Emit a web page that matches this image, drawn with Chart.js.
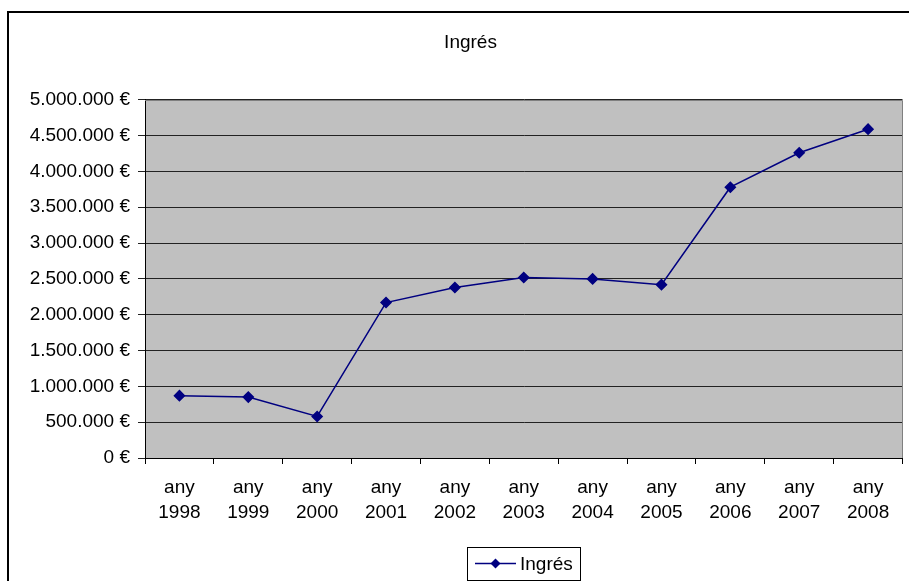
<!DOCTYPE html>
<html lang="ca">
  <head>
    <meta charset="UTF-8" />
    <title>Ingrés</title>
    <style>
      body,
      html {
        margin: 0;
        background: #fff;
      }
      .wrap {
        position: relative;
        width: 909px;
        height: 581px;
      }
    </style>
  </head>
  <body>
    <div class="wrap">
      <canvas id="grafic"></canvas>
    </div>

    <script src="https://cdn.jsdelivr.net/npm/chart.js"></script>

    <script>
      // Dades del gràfic
      const anys = ["1998", "1999", "2000", "2001", "2002", "2003", "2004", "2005", "2006", "2007", "2008"];
      const ingres = [870000, 850000, 580000, 2170000, 2380000, 2520000, 2500000, 2420000, 3780000, 4260000, 4590000];
      const titol = "Ingrés";
      const nomSerie = "Ingrés";

      const FONT = "'Liberation Sans', Arial, sans-serif";
      const BLAU = "#000080";

      // 5000000 -> "5.000.000 €"
      function euros(v) {
        return String(Math.round(v)).replace(/\B(?=(\d{3})+(?!\d))/g, ".") + " €";
      }

      // fons gris de l'area del grafic i marc exterior
      const fons = {
        id: "fons",
        beforeDraw(chart) {
          const { ctx, chartArea: a } = chart;
          ctx.save();
          ctx.fillStyle = "#c0c0c0";
          ctx.fillRect(a.left, a.top, a.right - a.left, a.bottom - a.top);
          ctx.strokeStyle = "#000";
          ctx.lineWidth = 2;
          ctx.beginPath();
          ctx.moveTo(8, 600);
          ctx.lineTo(8, 12);
          ctx.lineTo(920, 12);
          ctx.stroke();
          ctx.restore();
        },
        beforeDatasetsDraw(chart) {
          // vora grisa superior i dreta de l'area
          const { ctx, chartArea: a } = chart;
          ctx.save();
          ctx.strokeStyle = "#808080";
          ctx.lineWidth = 1;
          ctx.beginPath();
          ctx.moveTo(a.left, Math.round(a.top) + 0.5);
          ctx.lineTo(Math.round(a.right) - 0.5, Math.round(a.top) + 0.5);
          ctx.lineTo(Math.round(a.right) - 0.5, a.bottom);
          ctx.stroke();
          ctx.restore();
        },
      };

      // llegenda amb caixa, linia i rombe
      const llegenda = {
        id: "llegenda",
        afterDraw(chart) {
          const { ctx } = chart;
          const ds = chart.data.datasets[0];
          const x0 = 467, y0 = 547, w = 113, h = 33;
          const cy = y0 + h / 2;
          ctx.save();
          ctx.strokeStyle = "#000";
          ctx.lineWidth = 1;
          ctx.strokeRect(x0 + 0.5, y0 + 0.5, w, h);
          ctx.strokeStyle = ds.borderColor;
          ctx.lineWidth = 1.5;
          ctx.beginPath();
          ctx.moveTo(x0 + 8, cy);
          ctx.lineTo(x0 + 49, cy);
          ctx.stroke();
          ctx.fillStyle = ds.backgroundColor;
          ctx.beginPath();
          ctx.moveTo(x0 + 28.5, cy - 5);
          ctx.lineTo(x0 + 33.5, cy);
          ctx.lineTo(x0 + 28.5, cy + 5);
          ctx.lineTo(x0 + 23.5, cy);
          ctx.closePath();
          ctx.fill();
          ctx.fillStyle = "#000";
          ctx.font = "19px " + FONT;
          ctx.textBaseline = "middle";
          ctx.fillText(ds.label, x0 + 53, cy + 1);
          ctx.restore();
        },
      };

      const ctx = document.getElementById("grafic").getContext("2d");

      const grafic = new Chart(ctx, {
        type: "line",
        data: {
          labels: anys.map((a) => ["any", a]),
          datasets: [
            {
              label: nomSerie,
              data: ingres,
              borderColor: BLAU,
              backgroundColor: BLAU,
              borderWidth: 1.5,
              pointStyle: "rectRot",
              pointRadius: 5,
              pointHoverRadius: 5,
              tension: 0,
              fill: false,
            },
          ],
        },
        options: {
          responsive: true,
          maintainAspectRatio: false,
          animation: false,
          events: [],
          layout: {
            padding: { left: 30, right: -2, top: 0, bottom: 0 },
          },
          plugins: {
            legend: { display: false },
            tooltip: { enabled: false },
            title: {
              display: true,
              text: titol,
              color: "#000",
              font: { family: FONT, size: 19, weight: "normal" },
              padding: { top: 31, bottom: 46 },
            },
          },
          scales: {
            x: {
              offset: true,
              grid: {
                offset: true,
                drawOnChartArea: false,
                color: "#000",
                tickLength: 6,
              },
              border: { color: "#000", width: 1 },
              ticks: {
                color: "#000",
                padding: 12,
                maxRotation: 0,
                autoSkip: false,
                font: { family: FONT, size: 19, lineHeight: 1.28 },
              },
              afterFit(scale) {
                scale.height = 123;
              },
            },
            y: {
              min: 0,
              max: 5000000,
              grid: {
                color: "#222",
                tickLength: 7,
              },
              border: { color: "#000", width: 1 },
              ticks: {
                stepSize: 500000,
                color: "#000",
                padding: 8,
                font: { family: FONT, size: 19 },
                callback: (v) => euros(v),
              },
              afterFit(scale) {
                scale.width = 115;
              },
            },
          },
        },
        plugins: [fons, llegenda],
      });
    </script>
  </body>
</html>
